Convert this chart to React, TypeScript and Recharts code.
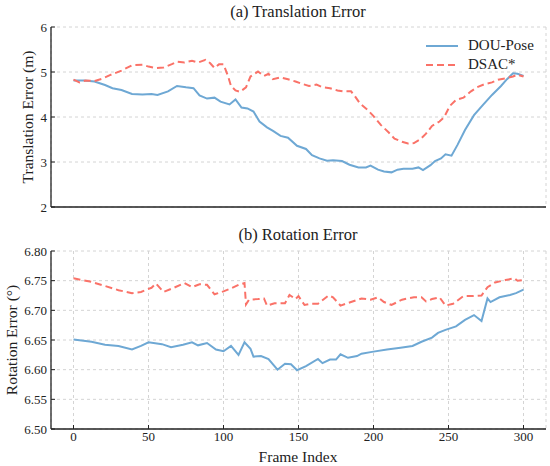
import { LineChart, Line, XAxis, YAxis, CartesianGrid } from 'recharts';

const FONT = '"Liberation Serif", "Times New Roman", serif';
const BLUE = '#6ea8d4';
const RED = '#fa7268';
const AXIS = '#222222';

const frameTicks = [0, 50, 100, 150, 200, 250, 300];
const transTicks = [2, 3, 4, 5, 6];
const rotTicks = [6.5, 6.55, 6.6, 6.65, 6.7, 6.75, 6.8];

// (a) translation error, DOU-Pose
const douTransFrames = [0, 7, 14, 21, 26, 32, 39, 46, 52, 56, 63, 69, 75, 80, 84, 89, 94, 98, 104, 108, 112, 116, 120, 124, 129, 133, 138, 143, 149, 155, 159, 164, 169, 173, 179, 184, 190, 195, 198, 203, 207, 212, 216, 220, 226, 230, 233, 238, 241, 245, 248, 252, 256, 261, 267, 273, 279, 285, 289, 293, 296, 300];
const douTransValues = [4.81, 4.81, 4.79, 4.71, 4.64, 4.6, 4.51, 4.5, 4.51, 4.49, 4.57, 4.69, 4.66, 4.64, 4.48, 4.41, 4.43, 4.34, 4.28, 4.39, 4.21, 4.19, 4.12, 3.9, 3.77, 3.69, 3.58, 3.54, 3.36, 3.29, 3.15, 3.08, 3.03, 3.04, 3.02, 2.94, 2.88, 2.88, 2.92, 2.83, 2.79, 2.77, 2.83, 2.85, 2.85, 2.88, 2.82, 2.93, 3.02, 3.08, 3.17, 3.14, 3.38, 3.71, 4.04, 4.27, 4.49, 4.69, 4.84, 4.97, 4.96, 4.91];

// (a) translation error, DSAC*
const dsacTransFrames = [0, 4, 8, 14, 19, 25, 32, 39, 46, 50, 55, 60, 66, 69, 74, 79, 83, 88, 91, 94, 97, 100, 103, 105, 108, 111, 115, 118, 123, 127, 130, 133, 138, 143, 148, 152, 157, 162, 166, 171, 176, 180, 185, 187, 191, 196, 200, 205, 210, 214, 219, 223, 227, 231, 235, 239, 244, 247, 251, 255, 260, 265, 269, 274, 279, 283, 288, 293, 296, 300];
const dsacTransValues = [4.83, 4.77, 4.81, 4.8, 4.85, 4.94, 5.03, 5.15, 5.16, 5.12, 5.09, 5.1, 5.18, 5.23, 5.21, 5.25, 5.21, 5.27, 5.2, 5.09, 5.17, 5.17, 4.91, 4.69, 4.59, 4.56, 4.66, 4.9, 5.01, 4.91, 4.96, 4.84, 4.88, 4.84, 4.79, 4.74, 4.69, 4.72, 4.66, 4.64, 4.59, 4.57, 4.57, 4.49, 4.3, 4.16, 4.02, 3.82, 3.66, 3.52, 3.45, 3.41, 3.42, 3.5, 3.63, 3.8, 3.9, 3.99, 4.25, 4.38, 4.43, 4.57, 4.66, 4.73, 4.77, 4.83, 4.86, 4.9, 4.94, 4.9];

// (b) rotation error, DOU-Pose
const douRotFrames = [0, 12, 21, 30, 39, 45, 50, 59, 65, 73, 79, 83, 89, 95, 100, 105, 110, 114, 118, 120, 125, 130, 136, 141, 145, 149, 155, 163, 166, 171, 175, 178, 183, 189, 192, 199, 209, 218, 226, 232, 239, 243, 248, 255, 261, 267, 272, 276, 278, 284, 291, 295, 300];
const douRotValues = [6.651, 6.647, 6.642, 6.64, 6.634, 6.64, 6.646, 6.643, 6.638, 6.642, 6.646, 6.641, 6.645, 6.634, 6.631, 6.64, 6.625, 6.646, 6.635, 6.622, 6.623, 6.618, 6.6, 6.61, 6.609, 6.599, 6.606, 6.618, 6.611, 6.617, 6.617, 6.626, 6.62, 6.623, 6.627, 6.63, 6.634, 6.637, 6.64, 6.647, 6.654, 6.662, 6.667, 6.673, 6.684, 6.692, 6.682, 6.72, 6.714, 6.722, 6.726, 6.729, 6.735];

// (b) rotation error, DSAC*
const dsacRotFrames = [0, 12, 21, 30, 39, 45, 52, 55, 60, 66, 74, 79, 84, 89, 94, 100, 105, 110, 114, 115, 117, 123, 127, 129, 134, 141, 144, 148, 150, 154, 158, 163, 170, 173, 178, 185, 192, 198, 203, 207, 212, 219, 227, 232, 235, 239, 244, 248, 253, 260, 266, 272, 276, 281, 288, 294, 296, 300];
const dsacRotValues = [6.754, 6.748, 6.741, 6.734, 6.729, 6.731, 6.738, 6.745, 6.731, 6.737, 6.746, 6.739, 6.744, 6.743, 6.727, 6.732, 6.737, 6.743, 6.746, 6.71, 6.718, 6.719, 6.72, 6.708, 6.712, 6.712, 6.726, 6.719, 6.724, 6.709, 6.711, 6.711, 6.725, 6.722, 6.708, 6.714, 6.72, 6.718, 6.722, 6.714, 6.709, 6.718, 6.722, 6.722, 6.715, 6.719, 6.722, 6.708, 6.711, 6.724, 6.724, 6.725, 6.739, 6.747, 6.751, 6.754, 6.75, 6.751];

const toPoints = (frames: number[], values: number[]) =>
  frames.map((frame, i) => ({ frame, value: values[i] }));

const douTrans = toPoints(douTransFrames, douTransValues);
const dsacTrans = toPoints(dsacTransFrames, dsacTransValues);
const douRot = toPoints(douRotFrames, douRotValues);
const dsacRot = toPoints(dsacRotFrames, dsacRotValues);

const tickStyle = { fontSize: 13, fill: AXIS, fontFamily: FONT };

const titleStyle = (top: number): React.CSSProperties => ({
  position: 'absolute',
  left: 298,
  top,
  transform: 'translate(-50%, -50%)',
  fontSize: 16.5,
  color: AXIS,
  whiteSpace: 'nowrap',
});

const yLabelStyle = (left: number, top: number): React.CSSProperties => ({
  position: 'absolute',
  left,
  top,
  transform: 'translate(-50%, -50%) rotate(-90deg)',
  fontSize: 15.5,
  color: AXIS,
  whiteSpace: 'nowrap',
});

function LegendBox() {
  const rows = [
    { name: 'DOU-Pose', color: BLUE, dash: undefined as string | undefined },
    { name: 'DSAC*', color: RED, dash: '7 4' },
  ];
  return (
    <div style={{ position: 'absolute', left: 426, top: 36 }}>
      {rows.map((r) => (
        <div key={r.name} style={{ display: 'flex', alignItems: 'center', height: 19 }}>
          <svg width={32} height={6} style={{ marginRight: 10 }}>
            <line x1={0} y1={3} x2={32} y2={3} stroke={r.color} strokeWidth={2} strokeDasharray={r.dash} />
          </svg>
          <span style={{ fontSize: 15, color: AXIS }}>{r.name}</span>
        </div>
      ))}
    </div>
  );
}

export default function App() {
  return (
    <div style={{ position: 'absolute', left: 0, top: 0, width: 550, height: 466, fontFamily: FONT, background: '#fff' }}>
      <div style={{ position: 'relative', width: 550, height: 225 }}>
        <LineChart width={550} height={225} margin={{ top: 27, right: 4, left: 0, bottom: 0 }}>
          <CartesianGrid stroke="#d4d4d4" strokeDasharray="3 3" />
          <XAxis
            type="number"
            dataKey="frame"
            domain={[-15, 315]}
            ticks={frameTicks}
            height={18}
            tick={false}
            tickSize={-4}
            axisLine={{ stroke: AXIS, strokeWidth: 1.3 }}
            tickLine={{ stroke: AXIS }}
            allowDataOverflow
          />
          <YAxis
            type="number"
            domain={[2, 6]}
            ticks={transTicks}
            width={51}
            tick={tickStyle}
            tickSize={-4}
            tickMargin={8}
            axisLine={{ stroke: AXIS, strokeWidth: 1.3 }}
            tickLine={{ stroke: AXIS }}
          />
          <Line data={douTrans} dataKey="value" type="linear" stroke={BLUE} strokeWidth={2} dot={false} isAnimationActive={false} />
          <Line data={dsacTrans} dataKey="value" type="linear" stroke={RED} strokeWidth={2} strokeDasharray="7 4" dot={false} isAnimationActive={false} />
        </LineChart>
        <div style={titleStyle(12)}>(a) Translation Error</div>
        <div style={yLabelStyle(28, 117)}>Translation Error (m)</div>
        <LegendBox />
      </div>
      <div style={{ position: 'relative', width: 550, height: 241 }}>
        <LineChart width={550} height={241} margin={{ top: 26, right: 4, left: 0, bottom: 0 }}>
          <CartesianGrid stroke="#d4d4d4" strokeDasharray="3 3" />
          <XAxis
            type="number"
            dataKey="frame"
            domain={[-15, 315]}
            ticks={frameTicks}
            height={37}
            tick={tickStyle}
            tickSize={-4}
            tickMargin={7}
            axisLine={{ stroke: AXIS, strokeWidth: 1.3 }}
            tickLine={{ stroke: AXIS }}
            allowDataOverflow
          />
          <YAxis
            type="number"
            domain={[6.5, 6.8]}
            ticks={rotTicks}
            width={51}
            tick={tickStyle}
            tickSize={-4}
            tickMargin={8}
            tickFormatter={(v: number) => v.toFixed(2)}
            axisLine={{ stroke: AXIS, strokeWidth: 1.3 }}
            tickLine={{ stroke: AXIS }}
          />
          <Line data={douRot} dataKey="value" type="linear" stroke={BLUE} strokeWidth={2} dot={false} isAnimationActive={false} />
          <Line data={dsacRot} dataKey="value" type="linear" stroke={RED} strokeWidth={2} strokeDasharray="7 4" dot={false} isAnimationActive={false} />
        </LineChart>
        <div style={titleStyle(10)}>(b) Rotation Error</div>
        <div style={yLabelStyle(12, 115)}>Rotation Error (°)</div>
        <div style={{ position: 'absolute', left: 298, top: 232, transform: 'translate(-50%, -50%)', fontSize: 15.5, color: AXIS, whiteSpace: 'nowrap' }}>
          Frame Index
        </div>
      </div>
    </div>
  );
}
